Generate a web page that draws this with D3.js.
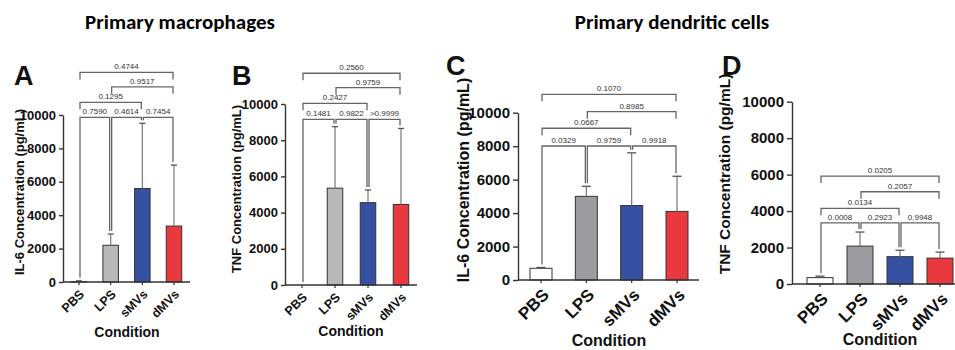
<!DOCTYPE html>
<html>
<head>
<meta charset="utf-8">
<script src="https://cdn.jsdelivr.net/npm/d3@7"></script>
<style>
  body { margin: 0; background: #fff; }
</style>
</head>
<body>
<div id="chart"></div>
<script>
// categories and shared things
const conditions = ["PBS", "LPS", "sMVs", "dMVs"];
const yTicks = [0, 2000, 4000, 6000, 8000, 10000];
const pairs = [[0, 1], [1, 2], [2, 3], [0, 2], [1, 3], [0, 3]];
const pairLevels = [0, 0, 0, 1, 2, 3];

// A - macrophages IL-6
const macIL6Mean = [20, 2200, 5600, 3350];
const macIL6SD = [50, 670, 3900, 3650];
const macIL6P = ["0.7590", "0.4614", "0.7454", "0.1295", "0.9517", "0.4744"];
const macIL6Brackets = [9860, 10760, 11690, 12550];

// B - macrophages TNF
const macTNFMean = [0, 5350, 4550, 4450];
const macTNFSD = [0, 3400, 700, 4200];
const macTNFP = ["0.1481", "0.9822", ">0.9999", "0.2427", "0.9759", "0.2560"];
const macTNFBrackets = [9155, 10040, 10900, 11700];

// C - dendritic IL-6
const dcIL6Mean = [700, 5000, 4450, 4100];
const dcIL6SD = [50, 600, 3150, 2100];
const dcIL6P = ["0.0329", "0.9759", "0.9918", "0.0667", "0.8985", "0.1070"];
const dcIL6Brackets = [8010, 9070, 10060, 11100];

// D - dendritic TNF
const dcTNFMean = [350, 2080, 1500, 1420];
const dcTNFSD = [80, 770, 350, 330];
const dcTNFP = ["0.0008", "0.2923", "0.9948", "0.0134", "0.2057", "0.0205"];
const dcTNFBrackets = [3350, 4150, 5060, 5920];

const width = 955, height = 350;
const sans = "'Liberation Sans', Arimo, Arial, sans-serif";
const titleFont = "Carlito, Lato, 'Noto Sans', sans-serif";

const svg = d3.select("#chart")
  .append("svg")
  .attr("width", width)
  .attr("height", height);

// group titles
svg.append("text")
  .attr("x", 180).attr("y", 29)
  .attr("text-anchor", "middle")
  .style("font-family", titleFont)
  .style("font-weight", "bold")
  .style("font-size", "21px")
  .text("Primary macrophages");

svg.append("text")
  .attr("x", 672).attr("y", 29)
  .attr("text-anchor", "middle")
  .style("font-family", titleFont)
  .style("font-weight", "bold")
  .style("font-size", "21px")
  .text("Primary dendritic cells");

function drawPanel(p) {
  const g = svg.append("g");

  const x = d3.scalePoint()
    .domain(conditions)
    .range([p.firstX, p.lastX]);

  const y = d3.scaleLinear()
    .domain([0, 10000])
    .range([p.y0, p.yTop]);

  const colors = ["#ffffff", p.lpsColor, "#3651a1", "#e9393f"];
  const rows = conditions.map((c, i) => ({ c: c, mean: p.mean[i], sd: p.sd[i], color: colors[i] }));

  // bars
  g.selectAll("rect.bar")
    .data(rows)
    .enter()
    .append("rect")
    .attr("class", "bar")
    .attr("x", d => x(d.c) - p.barW / 2)
    .attr("y", d => y(d.mean))
    .attr("width", p.barW)
    .attr("height", d => y(0) - y(d.mean))
    .attr("fill", d => d.color)
    .attr("stroke", "#333")
    .attr("stroke-width", 1);

  // error bars (upper only)
  const eb = g.selectAll("g.err")
    .data(rows.filter(d => d.sd > 0))
    .enter()
    .append("g")
    .attr("class", "err");
  eb.append("line")
    .attr("x1", d => x(d.c)).attr("x2", d => x(d.c))
    .attr("y1", d => y(d.mean)).attr("y2", d => y(d.mean + d.sd))
    .attr("stroke", "#777").attr("stroke-width", 1.2);
  eb.append("line")
    .attr("x1", d => x(d.c) - p.cap / 2).attr("x2", d => x(d.c) + p.cap / 2)
    .attr("y1", d => y(d.mean + d.sd)).attr("y2", d => y(d.mean + d.sd))
    .attr("stroke", "#555").attr("stroke-width", 1.3);

  // y axis
  g.append("g")
    .attr("transform", `translate(${p.axisX},0)`)
    .call(d3.axisLeft(y).tickValues(yTicks).tickFormat(d3.format("d")).tickSize(p.tick).tickSizeOuter(0))
    .call(a => a.select(".domain").attr("stroke", "#333").attr("stroke-width", 1.4))
    .call(a => a.selectAll(".tick line").attr("stroke", "#333").attr("stroke-width", 1.4))
    .call(a => a.selectAll("text")
      .style("font-family", sans)
      .style("font-size", p.tickFont + "px")
      .style("font-weight", "bold")
      .attr("fill", "#111"));

  // x axis line + ticks
  g.append("line")
    .attr("x1", p.axisX).attr("x2", p.xEnd)
    .attr("y1", y(0)).attr("y2", y(0))
    .attr("stroke", "#333").attr("stroke-width", 1.4);

  g.selectAll("line.xtick")
    .data(conditions)
    .enter()
    .append("line")
    .attr("class", "xtick")
    .attr("x1", d => x(d)).attr("x2", d => x(d))
    .attr("y1", y(0)).attr("y2", y(0) + 3)
    .attr("stroke", "#333").attr("stroke-width", 1.2);

  g.selectAll("text.xlab")
    .data(conditions)
    .enter()
    .append("text")
    .attr("class", "xlab")
    .attr("transform", d => `translate(${x(d) + p.labDx},${y(0) + p.labDy}) rotate(-45)`)
    .attr("text-anchor", "end")
    .style("font-family", sans)
    .style("font-size", p.xFont + "px")
    .style("font-weight", "bold")
    .attr("fill", "#111")
    .text(d => d);

  // axis titles
  g.append("text")
    .attr("transform", `translate(${p.yTitleX},${p.yTitleY}) rotate(-90)`)
    .attr("text-anchor", "middle")
    .attr("dy", "0.35em")
    .style("font-family", sans)
    .style("font-size", p.titleFont + "px")
    .style("font-weight", "bold")
    .attr("fill", "#111")
    .text(p.yTitle);

  g.append("text")
    .attr("x", p.condX).attr("y", p.condY)
    .attr("text-anchor", "middle")
    .style("font-family", sans)
    .style("font-size", p.condFont + "px")
    .style("font-weight", "bold")
    .attr("fill", "#111")
    .text("Condition");

  // panel letter
  g.append("text")
    .attr("x", p.letterX).attr("y", p.letterY)
    .style("font-family", sans)
    .style("font-size", "27px")
    .style("font-weight", "bold")
    .attr("fill", "#111")
    .text(p.letter);

  // significance brackets
  pairs.forEach((pr, k) => {
    const lvl = pairLevels[k];
    const by = y(p.brackets[lvl]);
    const xa = x(conditions[pr[0]]) + 1;
    const xb = x(conditions[pr[1]]) - 1;
    let ya, yb;
    if (lvl === 0) {
      ya = Math.max(by, y(rows[pr[0]].mean + rows[pr[0]].sd) - 3);
      yb = Math.max(by, y(rows[pr[1]].mean + rows[pr[1]].sd) - 3);
    } else {
      ya = by + 7;
      yb = by + 7;
    }
    g.append("path")
      .attr("d", `M${xa},${ya}V${by}H${xb}V${yb}`)
      .attr("fill", "none")
      .attr("stroke", "#666")
      .attr("stroke-width", 1.3);
    g.append("text")
      .attr("x", (xa + xb) / 2)
      .attr("y", by - 3)
      .attr("text-anchor", "middle")
      .style("font-family", sans)
      .style("font-size", p.pFont + "px")
      .attr("fill", "#333")
      .text(p.pvals[k]);
  });
}

const panels = [
  { letter: "A", mean: macIL6Mean, sd: macIL6SD, pvals: macIL6P, brackets: macIL6Brackets,
    yTitle: "IL-6 Concentration (pg/mL)", lpsColor: "#b9b9b9",
    axisX: 63, firstX: 79, lastX: 174, xEnd: 190, y0: 282, yTop: 115, barW: 15.5, cap: 6, tick: 4,
    tickFont: 13, xFont: 12.5, titleFont: 13, condFont: 14, pFont: 8,
    labDx: 6, labDy: 13, yTitleX: 19, yTitleY: 192, condX: 127, condY: 337, letterX: 14, letterY: 85 },
  { letter: "B", mean: macTNFMean, sd: macTNFSD, pvals: macTNFP, brackets: macTNFBrackets,
    yTitle: "TNF Concentration (pg/mL)", lpsColor: "#b9b9b9",
    axisX: 285, firstX: 302, lastX: 401, xEnd: 417, y0: 285, yTop: 104, barW: 15.5, cap: 6, tick: 4,
    tickFont: 13, xFont: 12.5, titleFont: 13, condFont: 14, pFont: 8,
    labDx: 6, labDy: 13, yTitleX: 236, yTitleY: 189, condX: 351, condY: 336, letterX: 232, letterY: 85 },
  { letter: "C", mean: dcIL6Mean, sd: dcIL6SD, pvals: dcIL6P, brackets: dcIL6Brackets,
    yTitle: "IL-6 Concentration (pg/mL)", lpsColor: "#9d9da1",
    axisX: 518, firstX: 541, lastX: 677, xEnd: 699, y0: 280, yTop: 112.7, barW: 22, cap: 9, tick: 5,
    tickFont: 15, xFont: 17, titleFont: 16, condFont: 16, pFont: 8,
    labDx: 9, labDy: 16, yTitleX: 463, yTitleY: 180, condX: 609, condY: 346, letterX: 446, letterY: 75 },
  { letter: "D", mean: dcTNFMean, sd: dcTNFSD, pvals: dcTNFP, brackets: dcTNFBrackets,
    yTitle: "TNF Concentration (pg/mL)", lpsColor: "#9d9da1",
    axisX: 792, firstX: 820, lastX: 940, xEnd: 955, y0: 284, yTop: 101.7, barW: 26, cap: 9, tick: 5,
    tickFont: 15, xFont: 17, titleFont: 15.5, condFont: 16, pFont: 8,
    labDx: 9, labDy: 16, yTitleX: 725, yTitleY: 174, condX: 880, condY: 345, letterX: 722, letterY: 75 }
];

panels.forEach(drawPanel);
</script>
</body>
</html>
